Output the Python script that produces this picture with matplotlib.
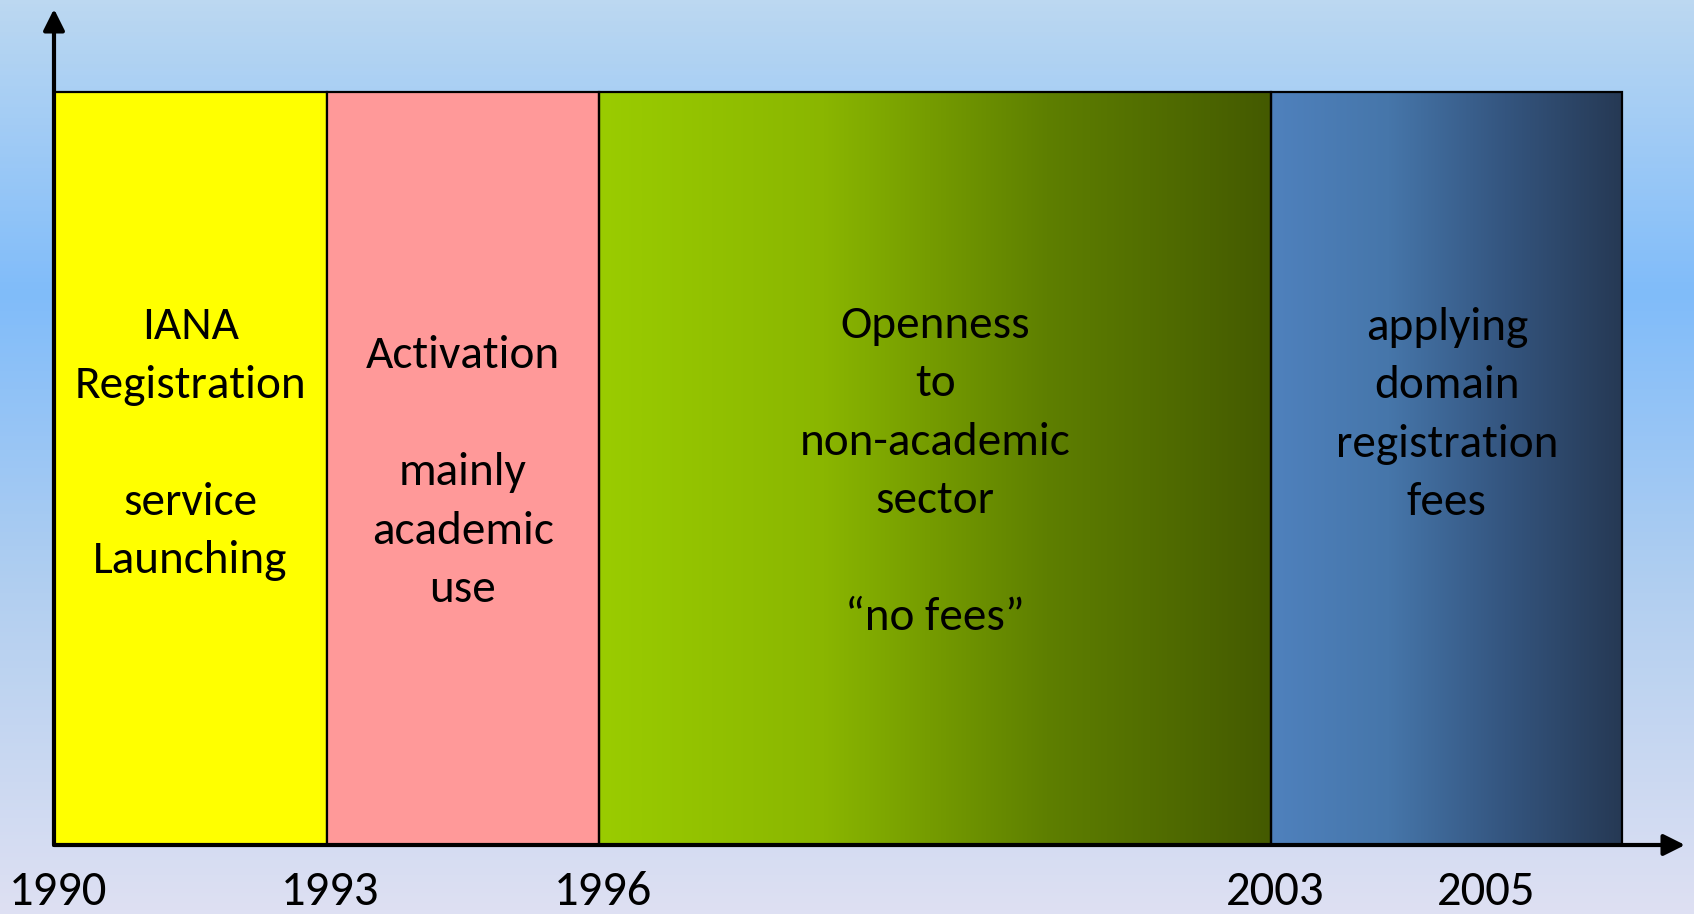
import numpy as np
import matplotlib
matplotlib.use("Agg")
import matplotlib.pyplot as plt
import matplotlib.transforms as mtransforms
from matplotlib.colors import LinearSegmentedColormap
from matplotlib.patches import Rectangle

# periods of the timeline
period_start = [1990, 1993, 1996, 2003]
period_end = [1993, 1996, 2003, 2006.33]
period_text = [
    "IANA\nRegistration\n\nservice\nLaunching",
    "Activation\n\nmainly\nacademic\nuse",
    "Openness\nto\nnon-academic\nsector\n\n\u201cno fees\u201d",
    "applying\ndomain\nregistration\nfees",
]
tick_years = [1990, 1993, 1996, 2003, 2005]
tick_labels = ["1990", "1993", "1996", "2003", "2005"]

# the slide is not drawn to scale: piecewise axis stretch (year -> axis fraction)
stretch_years = [1980, 1990, 1996, 2003, 2005, 2020]
stretch_pos = [-0.557, 0.0, 0.3342, 0.7462, 0.8755, 1.8453]

def fwd(x):
    return np.interp(x, stretch_years, stretch_pos)

def inv(p):
    return np.interp(p, stretch_pos, stretch_years)

# fills: plain colours or (left, right) gradients
fills = [
    ["#ffff00"],
    ["#ff9999"],
    ["#9acc00", "#8ab600", "#5e7f00", "#445a00"],
    ["#4f81bd", "#4676aa", "#34557f", "#263954"],
]
text_y = [0.533, 0.494, 0.496, 0.571]

fig = plt.figure(figsize=(16.94, 9.14), dpi=100)

# slide background
bg = fig.add_axes([0, 0, 1, 1])
bg_cmap = LinearSegmentedColormap.from_list(
    "bg", [(0, "#bcd8f1"), (0.32, "#80bcfa"), (0.65, "#b2cff0"), (1.0, "#dee0f3")])
bg.imshow(np.linspace(0, 1, 256).reshape(-1, 1), cmap=bg_cmap, aspect="auto",
          extent=[0, 1, 0, 1], origin="upper")
bg.set_axis_off()

ax = fig.add_axes([54 / 1694, 69 / 914, 1631 / 1694, 836 / 914])
ax.patch.set_alpha(0)
ax.set_xscale("function", functions=(fwd, inv))

for x0, x1, fill, txt, ty in zip(period_start, period_end, fills, period_text, text_y):
    if len(fill) == 1:
        ax.add_patch(Rectangle((x0, 0), x1 - x0, 1, facecolor=fill[0],
                               edgecolor="black", lw=1.6, zorder=2))
    else:
        cm = LinearSegmentedColormap.from_list("g", fill)
        ax.imshow(np.linspace(0, 1, 256).reshape(1, -1), cmap=cm, aspect="auto",
                  extent=[x0, x1, 0, 1], zorder=1)
        ax.add_patch(Rectangle((x0, 0), x1 - x0, 1, facecolor="none",
                               edgecolor="black", lw=1.6, zorder=2))
    xc = inv((fwd(x0) + fwd(x1)) / 2)
    ax.text(xc, ty, txt, ha="center", va="center", fontsize=34, family="Carlito",
            linespacing=1.53, color="black", zorder=3)

ax.set_aspect("auto")
ax.set_xlim(1990, 2006.924)
ax.set_ylim(0, 1.11)

for s in ax.spines.values():
    s.set_visible(False)
ax.set_yticks([])
ax.set_xticks(tick_years)
ax.set_xticklabels(tick_labels, family="Carlito", fontsize=35)
ax.tick_params(axis="x", length=0, pad=19)
shift = mtransforms.ScaledTranslation(4 / 100, 0, fig.dpi_scale_trans)
for lbl in ax.get_xticklabels():
    lbl.set_transform(lbl.get_transform() + shift)

# axis arrows
arrow = dict(arrowstyle="-|>", lw=3, color="black", mutation_scale=32,
             shrinkA=0, shrinkB=0)
ax.annotate("", xy=(1, 0), xytext=(0, 0), xycoords="axes fraction",
            arrowprops=arrow, zorder=4)
ax.annotate("", xy=(0, 1), xytext=(0, 0), xycoords="axes fraction",
            arrowprops=arrow, zorder=4)

fig.savefig("out.png", dpi=100)
